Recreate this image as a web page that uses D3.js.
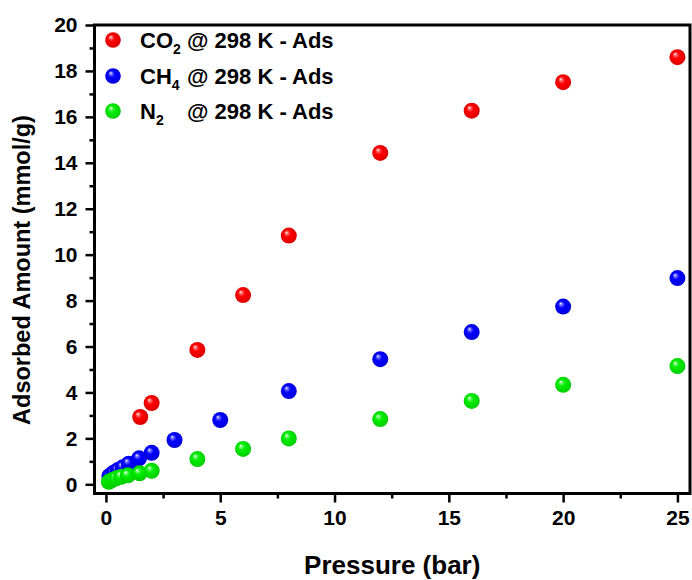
<!DOCTYPE html>
<html>
<head>
<meta charset="utf-8">
<script src="https://cdn.jsdelivr.net/npm/d3@7/dist/d3.min.js"></script>
<style>
  html, body { margin: 0; padding: 0; background: #fff; }
  svg { display: block; }
  text { font-family: "Liberation Sans", Arial, sans-serif; font-weight: bold; fill: #000; }
</style>
</head>
<body>
<svg id="chart" width="692" height="580"></svg>
<script>
// Adsorption isotherms at 298 K (pressure in bar, uptake in mmol/g)
const co2Pressure = [1.5, 2, 4, 6, 8, 12, 16, 20, 25];
const co2Uptake   = [2.93, 3.54, 5.85, 8.24, 10.83, 14.43, 16.27, 17.51, 18.6];

const ch4Pressure = [0.15, 0.33, 0.52, 0.74, 1.0, 1.45, 2.0, 3, 5, 8, 12, 16, 20, 25];
const ch4Uptake   = [0.36, 0.5, 0.62, 0.74, 0.9, 1.13, 1.37, 1.93, 2.8, 4.06, 5.45, 6.63, 7.74, 8.98];

const n2Pressure  = [0.13, 0.28, 0.45, 0.67, 0.96, 1.47, 2.0, 4, 6, 8, 12, 16, 20, 25];
const n2Uptake    = [0.11, 0.19, 0.26, 0.33, 0.39, 0.48, 0.59, 1.1, 1.54, 2.0, 2.84, 3.63, 4.33, 5.15];

const xTicks = [0, 5, 10, 15, 20, 25];
const xMinorTicks = [2.5, 7.5, 12.5, 17.5, 22.5];
const yTicks = [0, 2, 4, 6, 8, 10, 12, 14, 16, 18, 20];
const yMinorTicks = [1, 3, 5, 7, 9, 11, 13, 15, 17, 19];

const seriesNames = ["CO", "CH", "N"];
const seriesSubs = ["2", "4", "2"];
const seriesColors = ["#ff0000", "#0000ff", "#00ee00"];

const series = [
  { p: co2Pressure, q: co2Uptake },
  { p: ch4Pressure, q: ch4Uptake },
  { p: n2Pressure, q: n2Uptake }
];

const svg = d3.select("#chart");
const plot = { left: 94.5, right: 690, top: 25, bottom: 493.5 };

const x = d3.scaleLinear().domain([-0.5, 25.55]).range([plot.left, plot.right]);
const y = d3.scaleLinear().domain([-0.4, 20]).range([plot.bottom, plot.top]);

// Shaded sphere fills
const defs = svg.append("defs");
seriesColors.forEach((c, i) => {
  const g = defs.append("radialGradient")
    .attr("id", "sphere" + i)
    .attr("cx", "50%").attr("cy", "50%").attr("r", "55%")
    .attr("fx", "34%").attr("fy", "30%");
  const col = d3.color(c);
  g.append("stop").attr("offset", "0%").attr("stop-color", "#ffffff");
  g.append("stop").attr("offset", "15%").attr("stop-color", d3.interpolateRgb("#ffffff", c)(0.55));
  g.append("stop").attr("offset", "40%").attr("stop-color", c);
  g.append("stop").attr("offset", "85%").attr("stop-color", col.darker(0.35).formatHex());
  g.append("stop").attr("offset", "100%").attr("stop-color", col.darker(0.7).formatHex());
});

// Axes with outward ticks
const xAxis = svg.append("g").attr("transform", `translate(0,${plot.bottom})`)
  .call(d3.axisBottom(x).tickValues(xTicks).tickSize(9).tickSizeOuter(0).tickPadding(8).tickFormat(d3.format("d")));
const xMinor = svg.append("g").attr("transform", `translate(0,${plot.bottom})`)
  .call(d3.axisBottom(x).tickValues(xMinorTicks).tickSize(5).tickSizeOuter(0).tickFormat(""));
const yAxis = svg.append("g").attr("transform", `translate(${plot.left},0)`)
  .call(d3.axisLeft(y).tickValues(yTicks).tickSize(9).tickSizeOuter(0).tickPadding(8).tickFormat(d3.format("d")));
const yMinor = svg.append("g").attr("transform", `translate(${plot.left},0)`)
  .call(d3.axisLeft(y).tickValues(yMinorTicks).tickSize(5).tickSizeOuter(0).tickFormat(""));

[xAxis, xMinor, yAxis, yMinor].forEach(g => {
  g.select(".domain").remove();
  g.selectAll(".tick line").attr("stroke", "#000").attr("stroke-width", 2.5);
  g.selectAll(".tick text").attr("font-size", 21).attr("font-family", "Liberation Sans, Arial, sans-serif").attr("font-weight", "bold").attr("fill", "#000");
});

// Plot frame
svg.append("rect")
  .attr("x", plot.left).attr("y", plot.top)
  .attr("width", plot.right - plot.left).attr("height", plot.bottom - plot.top)
  .attr("fill", "none").attr("stroke", "#000").attr("stroke-width", 3);

// Data points
series.forEach((s, i) => {
  svg.append("g").selectAll("circle")
    .data(s.p.map((p, k) => [p, s.q[k]]))
    .join("circle")
    .attr("cx", d => x(d[0]))
    .attr("cy", d => y(d[1]))
    .attr("r", 8)
    .attr("fill", `url(#sphere${i})`);
});

// Legend
const legend = svg.append("g");
const legendRows = [40, 76, 111];
seriesNames.forEach((name, i) => {
  const cy = legendRows[i];
  legend.append("circle").attr("cx", 113).attr("cy", cy).attr("r", 7.8).attr("fill", `url(#sphere${i})`);
  const t = legend.append("text").attr("x", 140).attr("y", cy + 7.5).attr("font-size", 22);
  t.append("tspan").text(name);
  t.append("tspan").attr("font-size", 14).attr("dy", 6).text(seriesSubs[i]);
  t.append("tspan").attr("x", 187).attr("dy", -6).text("@ 298 K - Ads");
});

// Axis titles
svg.append("text")
  .attr("x", (plot.left + plot.right) / 2).attr("y", 574)
  .attr("text-anchor", "middle").attr("font-size", 26)
  .text("Pressure (bar)");
svg.append("text")
  .attr("transform", `translate(30,270) rotate(-90)`)
  .attr("text-anchor", "middle").attr("font-size", 23.5)
  .text("Adsorbed Amount (mmol/g)");
</script>
</body>
</html>
